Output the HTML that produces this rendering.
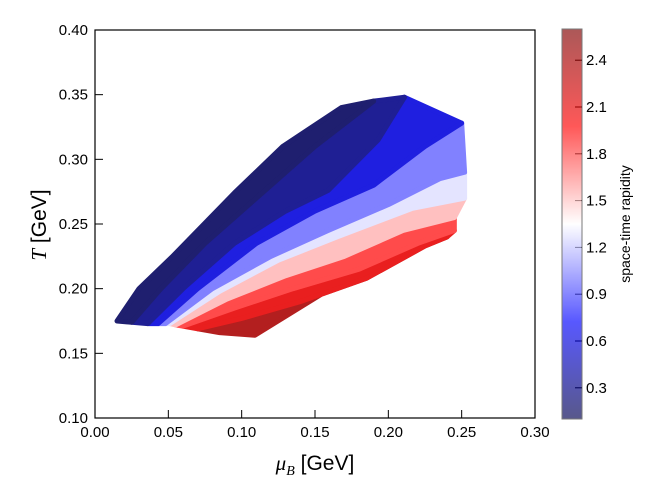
<!DOCTYPE html>
<html><head><meta charset="utf-8"><style>
body{margin:0;background:#fff;}
svg text{font-family:"Liberation Sans",sans-serif;}
</style></head><body>
<svg id="c" width="664" height="498" xmlns="http://www.w3.org/2000/svg">
<defs>
<clipPath id="clip"><rect x="95" y="30" width="440" height="388"/></clipPath>
<linearGradient id="cmap" x1="0" y1="1" x2="0" y2="0">
<stop offset="0" stop-color="#00004d"/>
<stop offset="0.25" stop-color="#0000ff"/>
<stop offset="0.5" stop-color="#ffffff"/>
<stop offset="0.75" stop-color="#ff0000"/>
<stop offset="1" stop-color="#800000"/>
</linearGradient>
</defs>
<g id="plot" clip-path="url(#clip)"></g>
<rect x="95" y="30" width="440" height="388" fill="none" stroke="#000" stroke-width="1.2"/>
<g id="axes"></g>
<rect x="562" y="29" width="20" height="390" fill="url(#cmap)" opacity="0.65" stroke="#333" stroke-width="1"/>
<text x="0" y="0" transform="translate(630,224) rotate(-90)" text-anchor="middle" font-size="14">space-time rapidity</text>
<text x="0" y="0" transform="translate(46,225) rotate(-90)" text-anchor="middle" font-size="21"><tspan font-family="Liberation Serif" font-style="italic">T</tspan>  [GeV]</text>
<text x="315" y="470" text-anchor="middle" font-size="21"><tspan font-family="Liberation Serif" font-style="italic">μ</tspan><tspan font-family="Liberation Serif" font-style="italic" font-size="14" dy="5">B</tspan><tspan dy="-5">  [GeV]</tspan></text>
</svg>
<script>
const xTicks=[0.00,0.05,0.10,0.15,0.20,0.25,0.30];
const yTicks=[0.10,0.15,0.20,0.25,0.30,0.35,0.40];
const cbTicks=[0.3,0.6,0.9,1.2,1.5,1.8,2.1,2.4];
const etas=[0.1,0.2,0.4,0.8,1.2,1.35,1.7,2.0,2.2,2.6];
const curveMu=[
[0.015,0.03,0.0525,0.095,0.128,0.168],
[0.025,0.045,0.075,0.11,0.15,0.19],
[0.036,0.06,0.095,0.13,0.159,0.193,0.211],
[0.043,0.07,0.11,0.15,0.19,0.225,0.25],
[0.048,0.08,0.12,0.159,0.2,0.235,0.252],
[0.051,0.085,0.125,0.165,0.216,0.252],
[0.055,0.09,0.13,0.17,0.21,0.245],
[0.06,0.095,0.135,0.18,0.22,0.245],
[0.07,0.10,0.14,0.185,0.225,0.24],
[0.085,0.109,0.159,0.205,0.227,0.239]];
const curveT=[
[0.175,0.20,0.2245,0.274,0.31,0.34],
[0.174,0.20,0.235,0.27,0.31,0.345],
[0.173,0.20,0.235,0.26,0.276,0.315,0.348],
[0.173,0.20,0.235,0.26,0.28,0.31,0.328],
[0.173,0.20,0.225,0.245,0.265,0.285,0.29],
[0.173,0.198,0.222,0.24,0.262,0.27],
[0.172,0.192,0.21,0.225,0.245,0.255],
[0.171,0.185,0.20,0.215,0.235,0.245],
[0.169,0.177,0.19,0.208,0.233,0.24],
[0.166,0.164,0.199,0.224,0.235,0.24]];
const NS='http://www.w3.org/2000/svg';
const X=v=>95+(v-0)/0.30*440;
const Y=v=>418-(v-0.10)/0.30*388;
const CB=v=>419-(v-0.1)/2.5*390;
function cmap(e,a){
  let t=(e-0.1)/2.5; t=Math.max(0,Math.min(1,t));
  const st=[[0,0,0,77],[0.25,0,0,255],[0.5,255,255,255],[0.75,255,0,0],[1,128,0,0]];
  let c=[128,0,0];
  for(let i=0;i<4;i++){if(t<=st[i+1][0]){const f=(t-st[i][0])/(st[i+1][0]-st[i][0]);
    c=[1,2,3].map(k=>st[i][k]+f*(st[i+1][k]-st[i][k]));break;}}
  c=c.map(v=>Math.round(v*a+255*(1-a)));
  return `rgb(${c})`;
}
const plot=document.getElementById('plot');
const pts=i=>curveMu[i].map((m,j)=>X(m)+','+Y(curveT[i][j]));
for(let i=etas.length-2;i>=0;i--){
  const pg=document.createElementNS(NS,'polygon');
  pg.setAttribute('points',pts(i).concat(pts(i+1).slice().reverse()).join(' '));
  const col=cmap((etas[i]+etas[i+1])/2,0.88);
  pg.setAttribute('fill',col);pg.setAttribute('stroke',col);pg.setAttribute('stroke-width','5');pg.setAttribute('stroke-linejoin','round');
  
  
  plot.appendChild(pg);
}
const axes=document.getElementById('axes');
function add(tag,attrs,txt){const e=document.createElementNS(NS,tag);for(const k in attrs)e.setAttribute(k,attrs[k]);if(txt!==undefined)e.textContent=txt;axes.appendChild(e);return e;}
xTicks.forEach(v=>{
  const l=add('line',{x1:X(v),x2:X(v),y1:418,y2:410,stroke:'#000'});
  
  
  const t=add('text',{x:X(v),y:437,'text-anchor':'middle','font-size':15},v.toFixed(2));
  
  
});
yTicks.forEach(v=>{
  const l=add('line',{x1:95,x2:103,y1:Y(v),y2:Y(v),stroke:'#000'});
  
  
  const t=add('text',{x:88,y:Y(v)+5,'text-anchor':'end','font-size':15},v.toFixed(2));
  
  
});
cbTicks.forEach(v=>{
  const l=add('line',{x1:575,x2:582,y1:CB(v),y2:CB(v),stroke:'#000'});
  
  
  const t=add('text',{x:586,y:CB(v)+5,'font-size':15},v.toFixed(1));
  
  
});
</script>
</body></html>
